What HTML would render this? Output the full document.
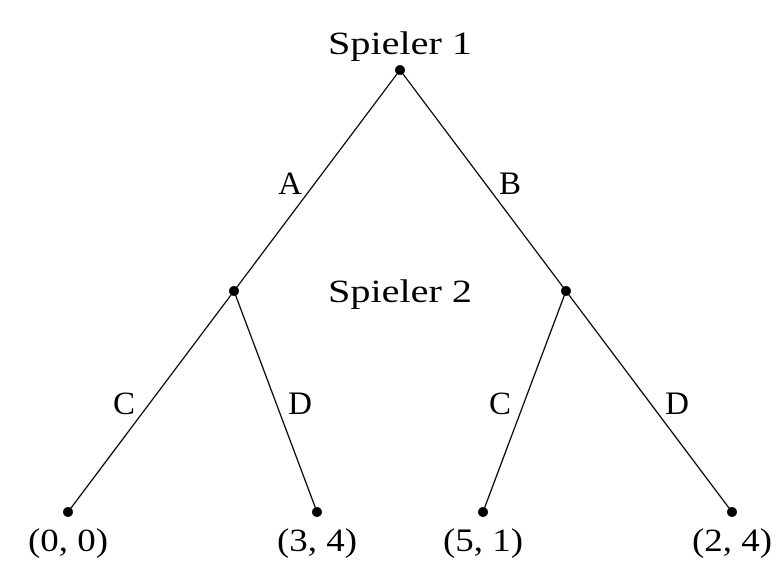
<!DOCTYPE html>
<html><head><meta charset="utf-8"><style>html,body{margin:0;padding:0;background:#fff}</style></head>
<body>
<svg width="782" height="583" viewBox="0 0 782 583" xmlns="http://www.w3.org/2000/svg" font-family="'Liberation Serif', 'Times New Roman', serif" font-size="33" fill="#000">
<g stroke="#000" stroke-width="1.3">
<line x1="400" y1="70" x2="234" y2="291"/>
<line x1="400" y1="70" x2="566" y2="291"/>
<line x1="234" y1="291" x2="68" y2="512"/>
<line x1="234" y1="291" x2="317" y2="512"/>
<line x1="566" y1="291" x2="483" y2="512"/>
<line x1="566" y1="291" x2="732" y2="512"/>
</g>
<g>
<circle cx="400" cy="70" r="5"/>
<circle cx="234" cy="291" r="5"/>
<circle cx="566" cy="291" r="5"/>
<circle cx="68" cy="512" r="5"/>
<circle cx="317" cy="512" r="5"/>
<circle cx="483" cy="512" r="5"/>
<circle cx="732" cy="512" r="5"/>
</g>
<g text-anchor="middle">
<text x="400" y="54" textLength="144" lengthAdjust="spacingAndGlyphs">Spieler 1</text>
<text x="400" y="302" textLength="144" lengthAdjust="spacingAndGlyphs">Spieler 2</text>
<text x="290" y="194">A</text>
<text x="510" y="194">B</text>
<text x="124" y="414">C</text>
<text x="300" y="414">D</text>
<text x="500" y="414">C</text>
<text x="677" y="414">D</text>
<text x="68" y="551" textLength="80" lengthAdjust="spacingAndGlyphs">(0, 0)</text>
<text x="317" y="551" textLength="80" lengthAdjust="spacingAndGlyphs">(3, 4)</text>
<text x="483" y="551" textLength="80" lengthAdjust="spacingAndGlyphs">(5, 1)</text>
<text x="732" y="551" textLength="80" lengthAdjust="spacingAndGlyphs">(2, 4)</text>
</g>
</svg>
</body></html>
